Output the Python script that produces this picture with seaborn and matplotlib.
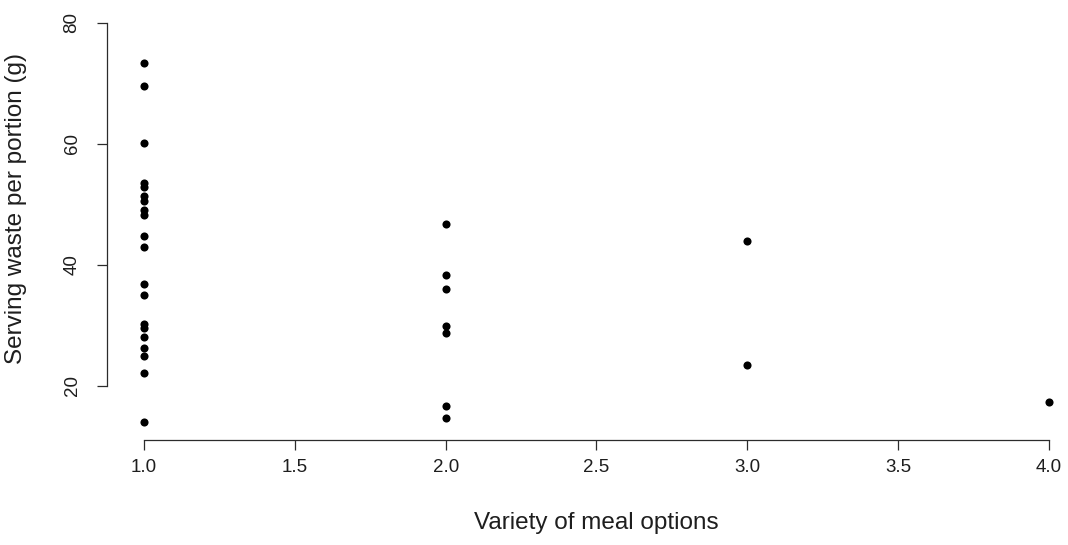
import matplotlib
matplotlib.use("Agg")
import matplotlib.pyplot as plt
import seaborn as sns
import pandas as pd

# Variety of meal options offered, and serving waste per portion (g)
variety_1 = [73.4, 69.6, 60.2, 53.5, 52.9, 51.3, 50.6, 49.0, 48.2, 44.8,
             42.9, 36.8, 35.0, 30.2, 29.5, 28.1, 26.2, 24.9, 22.2, 14.1]
variety_2 = [46.7, 38.3, 36.0, 29.9, 28.8, 16.7, 14.7]
variety_3 = [44.0, 23.5]
variety_4 = [17.4]

x_ticks = [1.0, 1.5, 2.0, 2.5, 3.0, 3.5, 4.0]
y_ticks = [20, 40, 60, 80]

df = pd.DataFrame({
    "variety": [1.0] * len(variety_1) + [2.0] * len(variety_2)
               + [3.0] * len(variety_3) + [4.0] * len(variety_4),
    "waste": variety_1 + variety_2 + variety_3 + variety_4,
})

sns.set_style("white")
plt.rcParams["font.family"] = ["Liberation Sans", "DejaVu Sans"]

W, H = 1068, 545
fig = plt.figure(figsize=(W / 100, H / 100), dpi=100)
ax_left, ax_right, ax_top, ax_bottom = 107, 1086, 20, 440
ax = fig.add_axes([ax_left / W, (H - ax_bottom) / H,
                   (ax_right - ax_left) / W, (ax_bottom - ax_top) / H])

sns.scatterplot(data=df, x="variety", y="waste", ax=ax, color="black",
                s=34, linewidth=0, legend=False, clip_on=False)

ax.set_xlim(0.877, 4.123)
ax.set_ylim(11.08, 80.45)

ax.set_xticks(x_ticks)
ax.set_xticklabels([f"{t:.1f}" for t in x_ticks])
ax.set_yticks(y_ticks)
ax.set_yticklabels([str(t) for t in y_ticks], rotation=90, va="center")

for side in ("top", "right"):
    ax.spines[side].set_visible(False)
ax.spines["left"].set_bounds(20, 80)
ax.spines["bottom"].set_bounds(1.0, 4.0)
for side in ("left", "bottom"):
    ax.spines[side].set_color("#2b2b2b")
    ax.spines[side].set_linewidth(0.9)

text_color = "#1e1e1e"
ax.tick_params(axis="both", direction="out", length=7, width=0.9,
               bottom=True, left=True,
               color="#2b2b2b", labelcolor=text_color, labelsize=13.5)
ax.tick_params(axis="x", pad=7)
ax.tick_params(axis="y", pad=12)

ax.set_xlabel("Variety of meal options", fontsize=17.5, color=text_color)
ax.set_ylabel("Serving waste per portion (g)", fontsize=17.5, color=text_color)
ax.xaxis.set_label_coords(0.5, -0.197)
ax.yaxis.set_label_coords(-0.093, 0.55)
ax.xaxis.label.set_va("center")
ax.yaxis.label.set_va("center")

fig.savefig("out.png", dpi=100, facecolor="white")
